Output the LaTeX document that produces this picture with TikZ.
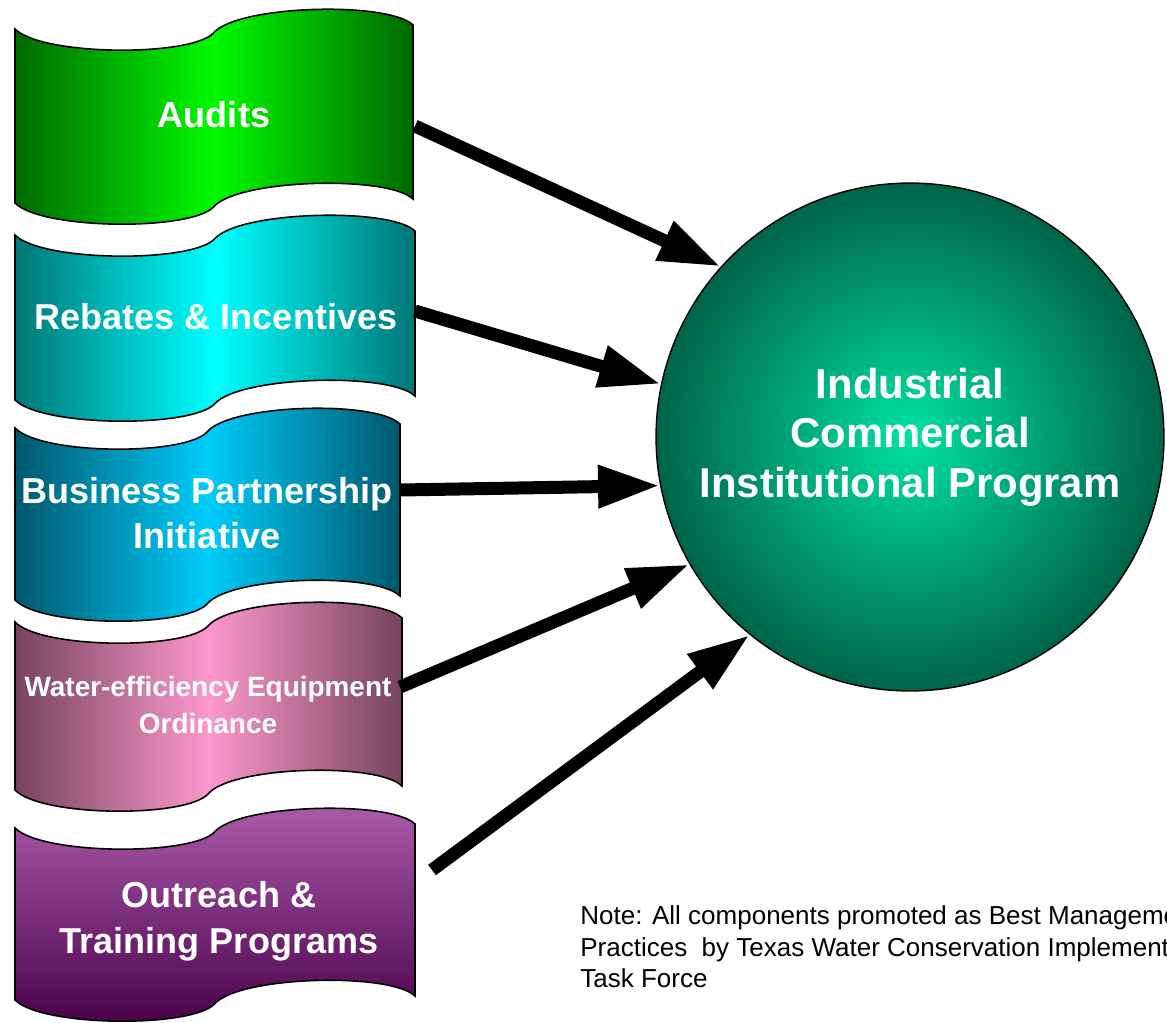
\documentclass[tikz,border=0pt]{standalone}
\usepackage{fontspec}
\setmainfont{Liberation Sans}
\usetikzlibrary{arrows.meta}

\definecolor{auditsdark}{RGB}{0,105,0}
\definecolor{auditslight}{RGB}{0,250,0}
\definecolor{rebatesdark}{RGB}{0,118,118}
\definecolor{rebateslight}{RGB}{0,255,255}
\definecolor{bpidark}{RGB}{0,88,108}
\definecolor{bpilight}{RGB}{0,204,250}
\definecolor{waterdark}{RGB}{118,68,92}
\definecolor{waterlight}{RGB}{252,152,204}
\definecolor{outreachtop}{RGB}{172,92,172}
\definecolor{outreachbottom}{RGB}{72,0,72}
\definecolor{icipinner}{RGB}{0,226,162}
\definecolor{icipouter}{RGB}{0,100,72}

% wave banner: left, top, right, height, fill
\newcommand{\wavebanner}[5]{%
  \pgfmathsetmacro{\wavescale}{(#3-#1)/397}
  \draw[banner,#5,shift={(#1,#2)},xscale=\wavescale] (0,0)
    .. controls (27,27) and (175,28) .. (198,4)
    .. controls (222,-24) and (372,-28) .. (397,-4)
    -- (397,#4-4)
    .. controls (372,#4-28) and (222,#4-24) .. (198,#4+4)
    .. controls (175,#4+28) and (27,#4+27) .. (0,#4)
    -- cycle;}

\begin{document}
\begin{tikzpicture}[x=0.02cm,y=-0.02cm,
  banner/.style={draw=black,line width=0.9pt},
  bannertext/.style={text=white,align=center,inner sep=0pt,
    font=\bfseries\fontsize{20.5}{26}\selectfont},
  hub/.style={circle,draw=black,line width=0.8pt,inner sep=0pt,
    minimum size=10.16cm,inner color=icipinner,outer color=icipouter,
    text=white,align=center,font=\bfseries\fontsize{23.8}{28.3}\selectfont},
  flow/.style={line width=7.4pt,-{Triangle[length=1.24cm,width=0.8cm]}},
  note/.style={align=left,inner sep=0pt,font=\fontsize{14.8}{18.1}\selectfont}]

	\path[fill=white,use as bounding box] (0,0) rectangle (1167,1022);

	% banners
	\wavebanner{15}{29}{413}{174}{left color=auditsdark,right color=auditsdark,middle color=auditslight}
	\wavebanner{15}{235}{415}{165}{left color=rebatesdark,right color=rebatesdark,middle color=rebateslight}
	\wavebanner{15}{428}{400}{172}{left color=bpidark,right color=bpidark,middle color=bpilight}
	\wavebanner{15}{622}{402}{168}{left color=waterdark,right color=waterdark,middle color=waterlight}
	\wavebanner{15}{828}{415}{172}{top color=outreachtop,bottom color=outreachbottom}

	\node[bannertext] (audits) at (214,115) {Audits};
	\node[bannertext] (rebates) at (216,317) {Rebates \& Incentives};
	\node[bannertext] (bpi) at (207,513) {Business Partnership\\Initiative};
	\node[bannertext,font=\bfseries\fontsize{15.9}{21}\selectfont] (water) at (208,705)
		{Water-efficiency Equipment\\Ordinance};
	\node[bannertext] (outreach) at (219,921) {Outreach \&\\Training Programs};

	% program circle
	\node[hub] (icip) at (910,437) {Industrial\\Commercial\\Institutional Program};

	\coordinate (audits-out) at (415,126);
	\coordinate (rebates-out) at (415,311);
	\coordinate (bpi-out) at (400,490);
	\coordinate (water-out) at (400,687);
	\coordinate (outreach-out) at (432,870);

	\foreach \src/\ang in {audits-out/138,rebates-out/168,bpi-out/191,water-out/210,outreach-out/231}
		\draw[flow] (\src) -- (icip.\ang);

	\node[note,anchor=north west] (remark) at (580,905)
		{Note: All components promoted as Best Management\\Practices~ by Texas Water Conservation Implementation\\Task Force};
\end{tikzpicture}
\end{document}
